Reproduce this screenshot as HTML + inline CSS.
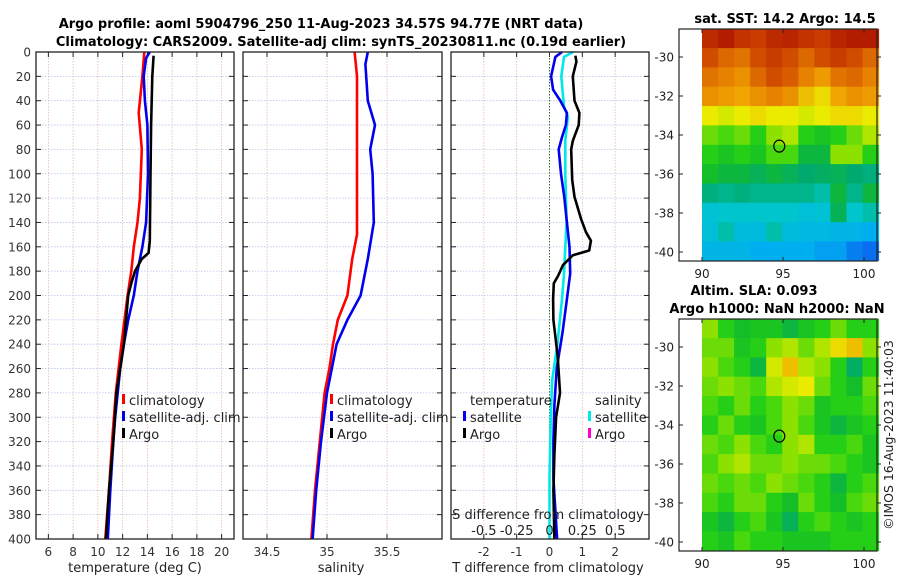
<!DOCTYPE html>
<html><head><meta charset="utf-8"><style>
html,body{margin:0;padding:0;background:#fff;}
svg{display:block;font-family:"DejaVu Sans","Liberation Sans",sans-serif;}
</style></head><body>
<svg id="fig" width="900" height="580" viewBox="0 0 900 580">
<text x="321" y="28" text-anchor="middle" font-weight="bold" font-size="13">Argo profile: aoml 5904796_250 11-Aug-2023 34.57S 94.77E (NRT data)</text>
<text x="341" y="46" text-anchor="middle" font-weight="bold" font-size="13">Climatology: CARS2009. Satellite-adj clim: synTS_20230811.nc (0.19d earlier)</text>
<text x="785" y="23" text-anchor="middle" font-weight="bold" font-size="13">sat. SST: 14.2 Argo: 14.5</text>
<text x="754" y="295" text-anchor="middle" font-weight="bold" font-size="13">Altim. SLA: 0.093</text>
<text x="777" y="313" text-anchor="middle" font-weight="bold" font-size="13">Argo h1000: NaN h2000: NaN</text>
<text transform="translate(893,435) rotate(-90)" text-anchor="middle" font-size="12.5" fill="#222">©IMOS 16-Aug-2023 11:40:03</text>
<g id="g"></g>
</svg>
<script>
const depthTicks=[0,20,40,60,80,100,120,140,160,180,200,220,240,260,280,300,320,340,360,380,400];
const tempTicks=[6,8,10,12,14,16,18,20];
const climDepth=[0,20,50,80,120,140,160,180,200,240,280,320,360,400];
const climTemp=[13.75,13.6,13.3,13.55,13.4,13.2,12.9,12.7,12.4,11.9,11.45,11.15,10.9,10.6];
const satDepth=[0,5,20,40,60,100,140,160,180,200,220,240,260,300,320,360,400];
const satTemp=[14.2,13.9,13.7,13.8,14.0,14.05,13.9,13.6,13.2,12.9,12.45,12.1,11.8,11.4,11.25,11.0,10.8];
const argoDepth=[3,20,60,100,155,165,170,180,190,200,240,280,320,360,400];
const argoTemp=[14.5,14.4,14.3,14.25,14.2,14.1,13.55,13.0,12.7,12.45,12.1,11.5,11.25,10.9,10.65];
const salTicks=[34.5,35,35.5];
const climSalDepth=[0,20,150,170,200,220,240,260,280,320,360,400];
const climSal=[35.23,35.25,35.25,35.21,35.17,35.09,35.05,35.02,34.98,34.94,34.9,34.87];
const satSalDepth=[0,10,40,60,80,100,140,170,200,220,240,260,280,320,360,400];
const satSal=[35.34,35.32,35.34,35.4,35.36,35.38,35.39,35.34,35.28,35.17,35.08,35.04,35.0,34.95,34.91,34.88];
const dTTicks=[-2,-1,0,1,2];
const dSTicks=[-0.5,-0.25,0,0.25,0.5];
const dSTickLabels=["-0.5","-0.25","0","0.25","0.5"];
const dSatDepth=[0,4,20,31,40,50,60,70,80,100,119,140,160,182,203,230,260,290,320,350,400];
const dSatT=[0.38,0.18,0.05,0.11,0.33,0.53,0.5,0.38,0.28,0.35,0.45,0.53,0.61,0.63,0.53,0.4,0.22,0.15,0.12,0.12,0.23];
const dSalDepth=[0,4,20,45,53,73,100,140,160,182,203,240,270,300,350,400];
const dSatS=[0.18,0.11,0.09,0.11,0.14,0.12,0.12,0.13,0.12,0.11,0.095,0.06,0.02,0.01,0.0,0.0];
const dArgoDepth=[3,8,20,40,50,60,73,80,105,119,137,148,155,163,167,175,184,190,203,220,250,280,300,330,360,400];
const dArgoT=[0.79,0.82,0.71,0.76,0.91,0.89,0.71,0.66,0.69,0.76,0.96,1.11,1.26,1.21,0.71,0.41,0.26,0.13,0.11,0.12,0.25,0.32,0.2,0.15,0.12,0.15];
const lonTicks=[90,95,100];
const latTicks=[-30,-32,-34,-36,-38,-40];
const latTickLabels=["-30","-32","-34","-36","-38","-40"];
const argoLon=94.77, argoLat=-34.57;
const sstGrid=[
[0.92,0.95,0.9,0.88,0.92,0.93,0.9,0.88,0.93,0.95,0.95],
[0.85,0.8,0.78,0.85,0.88,0.85,0.8,0.85,0.88,0.85,0.8],
[0.78,0.75,0.72,0.8,0.85,0.82,0.75,0.7,0.78,0.8,0.75],
[0.72,0.7,0.68,0.72,0.75,0.72,0.65,0.62,0.68,0.72,0.7],
[0.6,0.58,0.6,0.62,0.6,0.6,0.58,0.6,0.62,0.62,0.6],
[0.5,0.48,0.5,0.45,0.52,0.55,0.45,0.42,0.45,0.5,0.55],
[0.45,0.42,0.45,0.42,0.48,0.48,0.38,0.38,0.52,0.52,0.45],
[0.4,0.38,0.38,0.36,0.38,0.36,0.34,0.35,0.36,0.34,0.33],
[0.33,0.32,0.33,0.32,0.32,0.32,0.32,0.3,0.38,0.32,0.38],
[0.26,0.27,0.27,0.27,0.27,0.27,0.25,0.26,0.36,0.27,0.3],
[0.25,0.3,0.24,0.24,0.3,0.24,0.23,0.23,0.22,0.22,0.2],
[0.22,0.22,0.22,0.2,0.2,0.2,0.2,0.18,0.18,0.14,0.12]];
const slaGrid=[
[0.52,0.45,0.4,0.42,0.42,0.38,0.42,0.45,0.5,0.45,0.45],
[0.5,0.5,0.42,0.45,0.52,0.55,0.5,0.55,0.62,0.65,0.52],
[0.52,0.48,0.45,0.38,0.58,0.65,0.55,0.52,0.45,0.35,0.45],
[0.5,0.52,0.5,0.48,0.55,0.58,0.6,0.5,0.45,0.4,0.5],
[0.48,0.45,0.5,0.45,0.48,0.52,0.5,0.42,0.45,0.45,0.48],
[0.45,0.5,0.45,0.42,0.48,0.52,0.48,0.42,0.38,0.42,0.45],
[0.5,0.48,0.52,0.48,0.45,0.52,0.55,0.45,0.45,0.48,0.42],
[0.48,0.52,0.55,0.5,0.5,0.52,0.5,0.5,0.48,0.45,0.42],
[0.5,0.48,0.5,0.48,0.52,0.5,0.48,0.45,0.38,0.45,0.48],
[0.48,0.45,0.5,0.5,0.45,0.4,0.5,0.45,0.4,0.48,0.5],
[0.42,0.38,0.45,0.48,0.42,0.36,0.45,0.48,0.45,0.42,0.45],
[0.45,0.42,0.48,0.45,0.45,0.42,0.42,0.42,0.45,0.45,0.45]];

const NS="http://www.w3.org/2000/svg";
const G=document.getElementById('g');
function mk(tag,attrs,parent){const e=document.createElementNS(NS,tag);for(const k in attrs)e.setAttribute(k,attrs[k]);(parent||G).appendChild(e);return e;}
const Y0=52,Y1=539;
const yD=d=>Y0+(d/400)*(Y1-Y0);
function lin(d0,d1,r0,r1){return v=>r0+(v-d0)/(d1-d0)*(r1-r0);}

function panel(name,x0,x1,xs,xt,xl,showY){
  xt.forEach((t,i)=>{const e=mk('line',{x1:xs(t),x2:xs(t),y1:Y0,y2:Y1,stroke:'#e8b9a8','stroke-width':0.8,'stroke-dasharray':'1.5,1.5'});
    
    });
  depthTicks.forEach(t=>{const e=mk('line',{x1:x0,x2:x1,y1:yD(t),y2:yD(t),stroke:'#b8c4ec','stroke-width':0.8,'stroke-dasharray':'1.5,1.5'});
    
    
    mk('line',{x1:x0,x2:x0+5,y1:yD(t),y2:yD(t),stroke:'#222'});
    mk('line',{x1:x1-5,x2:x1,y1:yD(t),y2:yD(t),stroke:'#222'});
    if(showY){const l=mk('text',{x:31,y:yD(t)+4.5,'text-anchor':'end','font-size':12,fill:'#333'});l.textContent=t;
      
      }
  });
  xt.forEach((t,i)=>{mk('line',{x1:xs(t),x2:xs(t),y1:Y0,y2:Y0+5,stroke:'#222'});mk('line',{x1:xs(t),x2:xs(t),y1:Y1-5,y2:Y1,stroke:'#222'});
    const l=mk('text',{x:xs(t),y:556,'text-anchor':'middle','font-size':12,fill:'#333'});l.textContent=xl[i];
    
    });
}
function frame(name,x0,x1){const r=mk('rect',{x:x0,y:Y0,width:x1-x0,height:Y1-Y0,fill:'none',stroke:'#222','stroke-width':1.3});
  
  }
function line(name,xs,vals,depths,color,w){
  const d=vals.map((v,i)=>(i?'L':'M')+xs(v).toFixed(1)+','+yD(depths[i]).toFixed(1)).join('');
  const p=mk('path',{d:d,fill:'none',stroke:color,'stroke-width':w||2.6,'stroke-linejoin':'round'});
  
  }
function txt(x,y,s,name,anchor,size){const t=mk('text',{x:x,y:y,'font-size':size||13,fill:'#222','text-anchor':anchor||'start'});t.textContent=s;
  
  return t;}
function legItem(x,y,color,label,name){const r=mk('rect',{x:x,y:y-11,width:3,height:10,fill:color});
  
  
  txt(x+7,y,label,name+'-label');}

const xT=lin(5,21,36,234);
panel('temp',36,234,xT,tempTicks,tempTicks.map(String),true);
line('temp-climatology-line',xT,climTemp,climDepth,'#ff0000');
line('temp-satellite-adj-line',xT,satTemp,satDepth,'#0000ee');
line('temp-argo-line',xT,argoTemp,argoDepth,'#000000');
legItem(122,405,'#ff0000','climatology','temp-legend-climatology');
legItem(122,422,'#0000ee','satellite-adj. clim','temp-legend-satellite');
legItem(122,439,'#000','Argo','temp-legend-argo');
frame('temp-panel',36,234);
txt(135,572,'temperature (deg C)','temp-x-axis-title','middle');

const xS=lin(34.3,35.958,243,442);
panel('sal',243,442,xS,salTicks,["34.5","35","35.5"],false);
line('sal-climatology-line',xS,climSal,climSalDepth,'#ff0000');
line('sal-satellite-adj-line',xS,satSal,satSalDepth,'#0000ee');
legItem(330,405,'#ff0000','climatology','sal-legend-climatology');
legItem(330,422,'#0000ee','satellite-adj. clim','sal-legend-satellite');
legItem(330,439,'#000','Argo','sal-legend-argo');
frame('sal-panel',243,442);
txt(341,572,'salinity','sal-x-axis-title','middle');

const xD=lin(-3,3.03,451,649);
const xDS=lin(-0.75,0.7575,451,649);
panel('diff',451,649,xD,dTTicks,dTTicks.map(String),false);
const z=mk('line',{x1:xD(0),x2:xD(0),y1:Y0,y2:Y1,stroke:'#3a6a2a','stroke-width':1,'stroke-dasharray':'1.5,1.5'});


line('diff-salinity-satellite-line',xDS,dSatS,dSalDepth,'#00e8e8');
line('diff-temp-satellite-line',xD,dSatT,dSatDepth,'#0000ee');
line('diff-temp-argo-line',xD,dArgoT,dArgoDepth,'#000000');
frame('diff-panel',451,649);
txt(548,572,'T difference from climatology','t-diff-axis-title','middle');
txt(548,519,'S difference from climatology','s-diff-axis-title','middle');
dSTicks.forEach((t,i)=>txt(xDS(t),535,dSTickLabels[i],'s-diff-tick-label','middle'));
txt(470,405,'temperature','diff-legend-temp-header');
legItem(463,422,'#0000ee','satellite','diff-legend-temp-satellite');
legItem(463,439,'#000','Argo','diff-legend-temp-argo');
txt(595,405,'salinity','diff-legend-sal-header');
legItem(588,422,'#00e8e8','satellite','diff-legend-sal-satellite');
legItem(588,439,'#ff00cc','Argo','diff-legend-sal-argo');

const stops=[[0,[10,60,220]],[0.12,[10,110,240]],[0.2,[0,175,240]],[0.28,[0,200,200]],[0.34,[0,170,110]],[0.4,[20,190,40]],[0.46,[40,210,20]],[0.52,[140,225,0]],[0.6,[235,235,0]],[0.68,[240,165,0]],[0.78,[225,115,0]],[0.88,[200,60,0]],[1,[165,5,0]]];
function cmap(v){for(let i=1;i<stops.length;i++){if(v<=stops[i][0]){const a=stops[i-1],b=stops[i],f=(v-a[0])/(b[0]-a[0]);return 'rgb('+a[1].map((c,k)=>Math.round(c+(b[1][k]-c)*f)).join(',')+')';}}return 'rgb(165,5,0)';}
function map(name,grid,top){
  const fx0=679,fx1=877,fy0=top,fy1=top+232;
  const lx=lin(90,95,702,783), ly=lin(-30,-32,top+28,top+67);
  const lat0=-28.55,lat1=-40.45,lon0=90,lon1=100.9;
  const nr=grid.length,nc=grid[0].length;
  const cw=(lon1-lon0)/nc, ch=(lat0-lat1)/nr;
  grid.forEach((row,r)=>row.forEach((v,c)=>{
    const x=lx(lon0+c*cw),y=ly(lat0-r*ch);
    const e=mk('rect',{x:x.toFixed(1),y:y.toFixed(1),width:(lx(lon0+(c+1)*cw)-x+0.5).toFixed(1),height:(ly(lat0-(r+1)*ch)-y+0.5).toFixed(1),fill:cmap(v)});
    
    }));
  const f=mk('rect',{x:fx0,y:fy0,width:fx1-fx0,height:fy1-fy0,fill:'none',stroke:'#222','stroke-width':1.2});
  
  
  lonTicks.forEach(t=>{mk('line',{x1:lx(t),x2:lx(t),y1:fy0,y2:fy0+4,stroke:'#222'});mk('line',{x1:lx(t),x2:lx(t),y1:fy1-4,y2:fy1,stroke:'#222'});
    txt(lx(t),fy1+17,String(t),name+'-lon-tick-label','middle',12);});
  latTicks.forEach((t,i)=>{mk('line',{x1:fx0,x2:fx0+4,y1:ly(t),y2:ly(t),stroke:'#222'});mk('line',{x1:fx1,x2:fx1+4,y1:ly(t),y2:ly(t),stroke:'#222'});
    txt(674,ly(t)+4.5,latTickLabels[i],name+'-lat-tick-label','end',12);});
  const c=mk('ellipse',{cx:lx(argoLon),cy:ly(argoLat),rx:5.5,ry:6,fill:'none',stroke:'#000','stroke-width':1.2});
  
  
}
map('sst-map',sstGrid,29);
map('sla-map',slaGrid,319);
</script>
</body></html>
